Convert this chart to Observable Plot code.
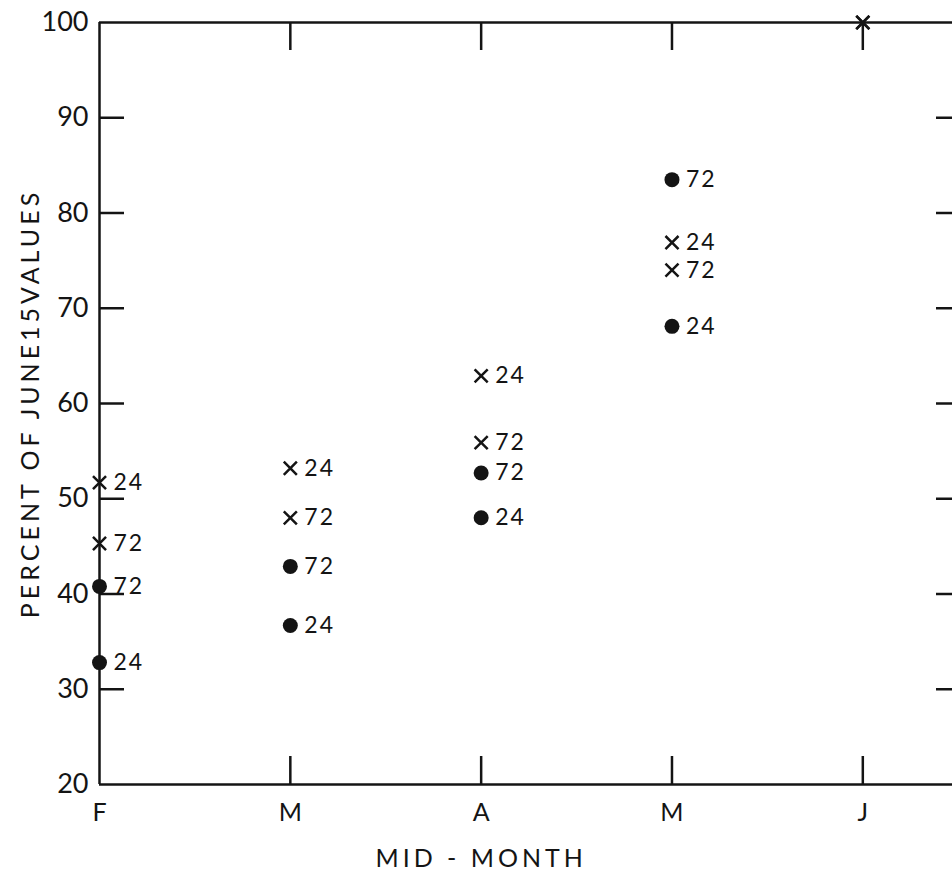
<!DOCTYPE html>
<html><head><meta charset="utf-8">
<script src="https://cdn.jsdelivr.net/npm/d3@7"></script>
<script src="https://cdn.jsdelivr.net/npm/@observablehq/plot@0.6"></script>
<style>
body{margin:0;background:#fff}
svg{display:block}
</style>
</head><body><div id="chart"></div>
<script>
// Mid-month positions F, M, A, M, J
const months = ["F", "M", "A", "M", "J"];
// "x" markers
const cross24 = [51.7, 53.2, 62.9, 76.9, 100];
const cross72 = [45.3, 48.0, 55.9, 74.0, 100];
// filled dots
const dot72 = [40.8, 42.9, 52.7, 83.5];
const dot24 = [32.8, 36.7, 48.0, 68.1];
const yTickLabels = [20, 30, 40, 50, 60, 70, 80, 90, 100];
const yInnerTicks = [30, 40, 50, 60, 70, 80, 90];
const xInnerTicks = [1, 2, 3, 4];
const labelledCount = 4; // no labels at J
const yTitle = "PERCENT OF JUNE15VALUES";
const xTitle = "MID - MONTH";

const crosses = [
  ...cross24.map((v, i) => ({i, v, lab: "24"})),
  ...cross72.map((v, i) => ({i, v, lab: "72"}))
];
const dots = [
  ...dot72.map((v, i) => ({i, v, lab: "72"})),
  ...dot24.map((v, i) => ({i, v, lab: "24"}))
];
const labels = [...crosses, ...dots].filter(d => d.i < labelledCount);

const W = 952, ML = 99, MR = 0;
const xDomain = [0, 4.47];
const pxPerUnit = (W - ML - MR) / (xDomain[1] - xDomain[0]);
const leftTickLen = 25 / pxPerUnit;

const ink = "#141414";
const chart = Plot.plot({
  width: W,
  height: 875,
  marginLeft: ML,
  marginRight: MR,
  marginTop: 22,
  marginBottom: 91,
  x: {domain: xDomain, axis: null},
  y: {domain: [20, 100], axis: null},
  style: {fontFamily: "Lato, sans-serif", color: ink, background: "#fff"},
  marks: [
    // frame lines
    Plot.ruleX([xDomain[0]], {stroke: ink, strokeWidth: 2.5}),
    Plot.ruleY([20, 100], {stroke: ink, strokeWidth: 2.5}),
    // inward ticks
    Plot.ruleY(yInnerTicks, {y: d => d, x1: xDomain[0], x2: xDomain[0] + leftTickLen, stroke: ink, strokeWidth: 2.5}),
    Plot.axisY(yInnerTicks, {anchor: "right", tickSize: -17, text: null, label: null, stroke: ink, strokeWidth: 2.5}),
    Plot.axisX(xInnerTicks, {anchor: "top", tickSize: -27, text: null, label: null, stroke: ink, strokeWidth: 2.5}),
    Plot.axisX(xInnerTicks, {anchor: "bottom", tickSize: -28, text: null, label: null, stroke: ink, strokeWidth: 2.5}),
    // tick labels
    Plot.axisY(yTickLabels, {anchor: "left", tickSize: 0, tickPadding: 11, fontSize: 27, label: null, fill: ink}),
    Plot.axisX(d3.range(months.length), {anchor: "bottom", tickSize: 0, tickPadding: 19, fontSize: 25, label: null, tickFormat: i => months[i], fill: ink}),
    // data
    Plot.dot(dots, {x: "i", y: "v", r: 7.5, fill: ink, stroke: "none"}),
    Plot.dot(crosses, {x: "i", y: "v", symbol: "times", r: 6, stroke: ink, strokeWidth: 2.5}),
    Plot.text(labels, {x: "i", y: "v", text: "lab", textAnchor: "start", dx: 14, fontSize: 23, fill: ink}),
    // titles
    Plot.text([yTitle], {frameAnchor: "left", textAnchor: "middle", lineAnchor: "middle", rotate: -90, dx: -69, fontSize: 25, fill: ink}),
    Plot.text([{i: 2, t: xTitle}], {x: "i", frameAnchor: "bottom", text: "t", textAnchor: "middle", lineAnchor: "middle", dy: 74, fontSize: 25, fill: ink})
  ]
});
// letter spacing like the typewritten original
d3.select(chart).selectAll("text").each(function() {
  const t = this.textContent;
  if (t === yTitle || t === xTitle) this.setAttribute("letter-spacing", "4px");
  else if (labels.some(d => d.lab === t) && this.closest("g[aria-label='text']")) this.setAttribute("letter-spacing", "2px");
});
document.getElementById("chart").append(chart);
</script>
</body></html>
